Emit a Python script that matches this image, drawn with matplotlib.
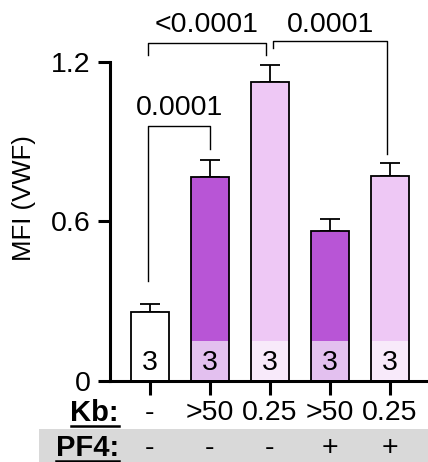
import matplotlib
matplotlib.use("Agg")
import matplotlib.pyplot as plt
from matplotlib.patches import Rectangle

plt.rcParams['font.family'] = ['Liberation Sans', 'DejaVu Sans']

kb_labels = ["-", ">50", "0.25", ">50", "0.25"]
pf4_labels = ["-", "-", "-", "+", "+"]
means = [0.26, 0.767, 1.125, 0.564, 0.771]
errors = [0.03, 0.063, 0.065, 0.046, 0.049]
n_labels = ["3", "3", "3", "3", "3"]
bar_colors = ["#ffffff", "#b855d6", "#eec8f5", "#b855d6", "#eec8f5"]
band_colors = ["#ffffff", "#e3c0ef", "#f8eafa", "#e3c0ef", "#f8eafa"]
comparisons = [(0, 1, "0.0001"), (0, 2, "<0.0001"), (2, 4, "0.0001")]

W, H = 428, 462
fig = plt.figure(figsize=(W / 100, H / 100), dpi=100)
ax = fig.add_axes([110 / W, 1 - 381 / H, 318 / W, (381 - 62) / H])
x = list(range(len(means)))
ax.set_xlim(-40 / 60, -40 / 60 + 318 / 60)
ax.set_ylim(0, 1.2)

FS = 20.5
band_h = 0.147
ax.bar(x, means, width=0.64, color=bar_colors, edgecolor="black", linewidth=1.3,
       zorder=2, clip_on=False)
for i in x:
    ax.add_patch(Rectangle((i - 0.32 + 0.02, 0.004), 0.64 - 0.04, band_h,
                           facecolor=band_colors[i], edgecolor="none", zorder=3))
    ax.text(i, 0.068, n_labels[i], ha="center", va="center", fontsize=FS, zorder=4)
ax.errorbar(x, means, yerr=[[0] * 5, errors], fmt="none", ecolor="black",
            elinewidth=1.3, capsize=7, capthick=1.3, zorder=1, clip_on=False)

ax.spines["top"].set_visible(False)
ax.spines["right"].set_visible(False)
ax.spines["left"].set_linewidth(2.2)
ax.spines["bottom"].set_linewidth(2.2)
ax.set_yticks([0, 0.6, 1.2])
ax.set_yticklabels(["0", "0.6", "1.2"])
ax.tick_params(axis="y", labelsize=FS, width=2.2, length=9, pad=5)
ax.set_xticks(x)
ax.set_xticklabels([])
ax.tick_params(axis="x", width=2.2, length=10)
ax.set_ylabel("MFI (VWF)", fontsize=18.5)
ax.yaxis.set_label_coords((36 - 110) / 318, (381 - 198) / 319)

def py(pix):
    return (381 - pix) / (319 / 1.2)

brackets = [
    (0, 1, py(126), py(281), py(149), py(108)),
    (0, 2 - 0.07, py(43), py(55), py(55), py(25)),
    (2 + 0.05, 4 - 0.05, py(41), py(48), py(154), py(25)),
]
for (a, b, top, la, lb, ty), comp in zip(brackets, comparisons):
    xa = a - 0.03 if a == 0 else a
    ax.plot([xa, xa, b, b], [la, top, top, lb], color="black", lw=1.0,
            clip_on=False)
    ax.text((xa + b) / 2, ty, comp[2], ha="center", va="center", fontsize=FS,
            clip_on=False)

# grey band behind PF4 row
fig.patches.append(Rectangle((39 / W, 0), 1 - 39 / W, (462 - 429) / H,
                             transform=fig.transFigure, facecolor="#d9d9d9",
                             edgecolor="none", zorder=0))

for i in x:
    xf = (110 + 40 + 60 * i) / W
    fig.text(xf, 1 - 413 / H, kb_labels[i], ha="center", va="center", fontsize=FS)
    fig.text(xf, 1 - 448 / H, pf4_labels[i], ha="center", va="center", fontsize=FS)

for lab, yp in [("Kb:", 413), ("PF4:", 448)]:
    fig.text(119 / W, 1 - yp / H, lab, ha="right", va="center", fontsize=21,
             fontweight="bold")

fig.canvas.draw()
r = fig.canvas.get_renderer()
for t in list(fig.texts):
    if t.get_text() in ("Kb:", "PF4:"):
        bb = t.get_window_extent(renderer=r)
        yline = bb.y0 + 1
        fig.add_artist(plt.Line2D([bb.x0 / W, bb.x1 / W], [yline / H, yline / H],
                                  transform=fig.transFigure, color="black", lw=1.8))

fig.savefig("out.png", dpi=100)
